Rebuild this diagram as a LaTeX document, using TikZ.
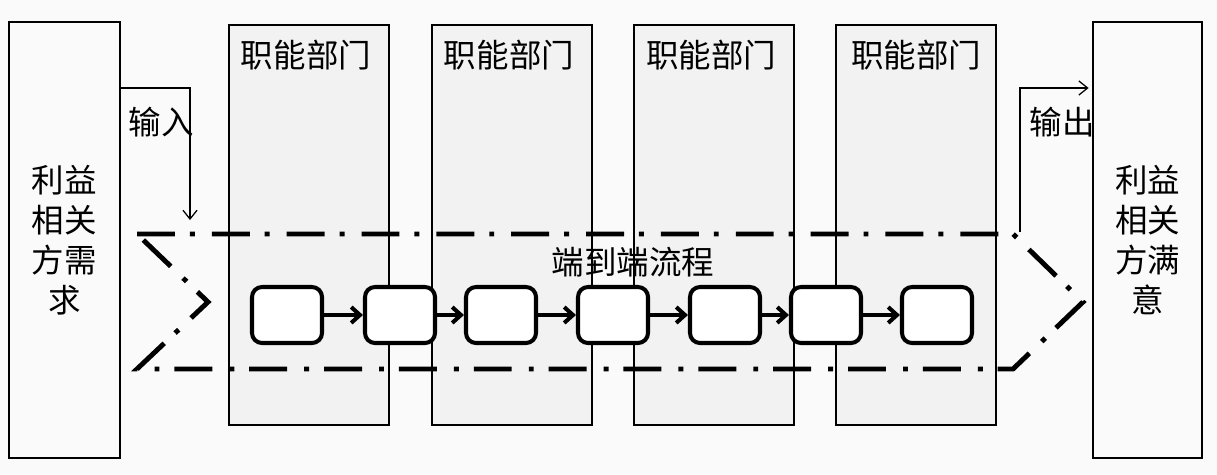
\documentclass[tikz,border=0pt]{standalone}
\usepackage{fontspec}
\usepackage{xcolor}
\usepackage{tikz}
\usetikzlibrary{arrows.meta}
\newfontfamily\cjk{Noto Sans CJK SC}
\definecolor{bgcol}{RGB}{250,250,250}
\definecolor{deptcol}{RGB}{242,242,242}

\begin{document}
\begin{tikzpicture}[x=0.02cm, y=-0.02cm,
        stake/.style={rectangle, draw, line width=1pt, fill=bgcol, minimum height=8.72cm, align=center, inner sep=0pt, font=\cjk\fontsize{18.5}{22.8}\selectfont},
        dept/.style={rectangle, draw, line width=0.8pt, fill=deptcol, minimum width=3.2cm, minimum height=8cm},
        dtitle/.style={inner sep=0pt, font=\cjk\fontsize{18.5}{22.8}\selectfont},
        procbox/.style={rectangle, draw, line width=2.3pt, rounded corners=0.2cm, fill=white, minimum width=1.4cm, minimum height=1.12cm},
        flow/.style={-{Straight Barb[length=5pt,width=8pt]}, line width=0.7pt},
        link/.style={-{Straight Barb[length=5pt,width=9pt]}, line width=2.3pt},
        chevron/.style={line width=2.8pt, dash pattern=on 21.6pt off 8.5pt on 2.8pt off 9.7pt}
    ]
        \fill[bgcol] (0,0) rectangle (1217,474);
        \useasboundingbox (0,0) rectangle (1217,474);

        \node[dept] (d1) at (309,225) {};
        \node[dept] (d2) at (512,225) {};
        \node[dept] (d3) at (714,225) {};
        \node[dept] (d4) at (916,225) {};
        \node[dtitle] (t1) at (306,55) {职能部门};
        \node[dtitle] (t2) at (509,55) {职能部门};
        \node[dtitle] (t3) at (711,55) {职能部门};
        \node[dtitle] (t4) at (916,55) {职能部门};

        \coordinate (ctl) at (137,234);
        \coordinate (ctr) at (1013,234);
        \coordinate (ctip) at (1083,302);
        \coordinate (cbr) at (1013,369);
        \coordinate (cbl) at (137,369);
        \coordinate (cnotch) at (208,302);
        \draw[chevron] (ctl) -- (ctr) -- (ctip) -- (cbr) -- (cbl) -- (cnotch) -- cycle;
        \node[dtitle] (e2e) at (633,262) {端到端流程};

        \node[procbox] (p1) at (287,315) {};
        \node[procbox] (p2) at (400,315) {};
        \node[procbox] (p3) at (501,315) {};
        \node[procbox] (p4) at (613,315) {};
        \node[procbox] (p5) at (725,315) {};
        \node[procbox] (p6) at (826,315) {};
        \node[procbox] (p7) at (937,315) {};
        \draw[link] (p1) -- (p2);
        \draw[link] (p2) -- (p3);
        \draw[link] (p3) -- (p4);
        \draw[link] (p4) -- (p5);
        \draw[link] (p5) -- (p6);
        \draw[link] (p6) -- (p7);

        \node[dtitle] (outlabel) at (1062,122) {输出};
        \node[stake, minimum width=2.22cm] (lbox) at (64.5,240) {利益\\相关\\方需\\求};
        \node[stake, minimum width=2.18cm] (rbox) at (1147.5,240) {利益\\相关\\方满\\意};
        \node[dtitle] (inlabel) at (161,122) {输入};

        \coordinate (inend) at (190,220);
        \coordinate (outstart) at (1020,232);
        \draw[flow] (lbox.east |- 0,88) -| (inend);
        \draw[flow, shorten >=2pt] (outstart) |- (rbox.west |- 0,88);
    \end{tikzpicture}
\end{document}
